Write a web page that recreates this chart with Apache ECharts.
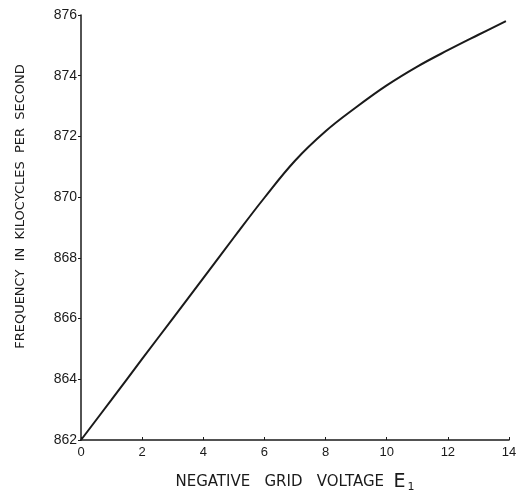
<!DOCTYPE html>
<html>
<head>
<meta charset="utf-8">
<script src="https://cdn.jsdelivr.net/npm/echarts@6/dist/echarts.min.js"></script>
<style>
  html, body { margin: 0; padding: 0; background: #fff; }
  #chart { width: 521px; height: 498px; }
</style>
</head>
<body>
<div id="chart"></div>
<script>
// grid voltage (negative volts) vs oscillator frequency (kc/s)
const gridVoltage = [0, 1, 2, 3, 4, 5, 6, 7, 8, 9, 10, 11, 12, 13, 13.9];
const frequency = [862, 863.33, 864.67, 866, 867.33, 868.67, 869.98, 871.2, 872.17, 872.96, 873.68, 874.3, 874.84, 875.35, 875.8];

const chart = echarts.init(document.getElementById('chart'));

const font = 'Liberation Sans, Arial, sans-serif';
const ink = '#1a1a1a';

const option = {
  backgroundColor: '#fff',
  animation: false,
  grid: { left: 81, right: 12, top: 15, bottom: 54 },
  xAxis: {
    type: 'value',
    min: 0,
    max: 14,
    interval: 2,
    name: '{a|NEGATIVE   GRID   VOLTAGE  }{b|E}{c|1}',
    nameLocation: 'middle',
    nameGap: 32,
    nameTextStyle: {
      rich: {
        a: { fontFamily: 'DejaVu Sans', fontSize: 15, color: ink },
        b: { fontFamily: 'DejaVu Sans', fontSize: 19, color: ink },
        c: { fontFamily: 'DejaVu Sans', fontSize: 11, color: ink, padding: [10, 0, 0, 2] }
      }
    },
    axisLine: { lineStyle: { color: ink, width: 1.5 } },
    axisTick: { inside: true, length: 3, lineStyle: { color: ink } },
    axisLabel: { fontFamily: font, fontSize: 13, color: ink, margin: 6 },
    splitLine: { show: false }
  },
  yAxis: {
    type: 'value',
    min: 862,
    max: 876,
    interval: 2,
    name: 'FREQUENCY  IN  KILOCYCLES  PER  SECOND',
    nameLocation: 'middle',
    nameGap: 54,
    nameTextStyle: { fontFamily: 'DejaVu Sans', fontSize: 13, color: ink, padding: [0, 0, 0, 42] },
    axisLine: { show: true, lineStyle: { color: ink, width: 1.5 } },
    axisTick: { show: true, length: 3, lineStyle: { color: ink } },
    axisLabel: { fontFamily: font, fontSize: 14, color: ink, margin: 4 },
    splitLine: { show: false }
  },
  series: [{
    type: 'line',
    data: gridVoltage.map((v, i) => [v, frequency[i]]),
    smooth: 0.4,
    showSymbol: false,
    lineStyle: { color: ink, width: 2 }
  }]
};

chart.setOption(option);
</script>
</body>
</html>
